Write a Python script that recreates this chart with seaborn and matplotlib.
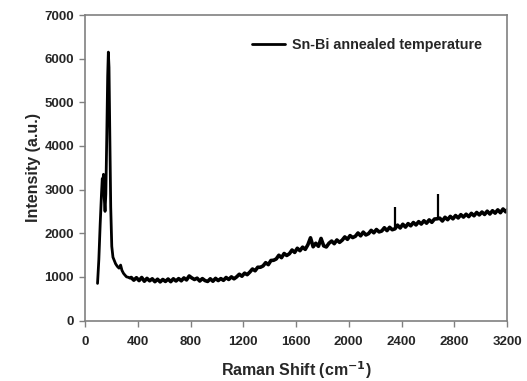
import matplotlib
matplotlib.use("Agg")
import matplotlib.pyplot as plt
import numpy as np
import pandas as pd
import seaborn as sns

#%% Data
# peak region (Sn-Bi bands near 130-180 cm-1)
shift_peak = [95, 105, 115, 125, 131, 135, 140, 146, 152, 158, 165, 172, 177, 182, 188,
              195, 203, 212, 220, 232, 245, 258, 270, 280, 292, 303, 315, 328, 341, 350]
intensity_peak = [850, 1400, 2200, 2900, 3250, 3150, 3350, 2800, 2500, 2900, 4200, 5600, 6150, 5800, 4300,
                  2600, 1700, 1450, 1390, 1300, 1240, 1200, 1270, 1150, 1080, 1040, 1000, 990, 970, 985]

# noisy background, 350 - 3200 cm-1
shift_bg = [350, 370, 390, 410, 430, 450, 470, 490, 510, 530,
            550, 570, 590, 610, 630, 650, 670, 690, 710, 730,
            750, 770, 790, 810, 830, 850, 870, 890, 910, 930,
            950, 970, 990, 1010, 1030, 1050, 1070, 1090, 1110, 1130,
            1150, 1170, 1190, 1210, 1230, 1250, 1270, 1290, 1310, 1330,
            1350, 1370, 1390, 1410, 1430, 1450, 1470, 1490, 1510, 1530,
            1550, 1570, 1590, 1610, 1630, 1650, 1670, 1690, 1710, 1730,
            1750, 1770, 1790, 1810, 1830, 1850, 1870, 1890, 1910, 1930,
            1950, 1970, 1990, 2010, 2030, 2050, 2070, 2090, 2110, 2130,
            2150, 2170, 2190, 2210, 2230, 2250, 2270, 2290, 2310, 2330,
            2350, 2370, 2390, 2410, 2430, 2450,
            2470, 2490, 2510, 2530, 2550, 2570, 2590, 2610, 2630, 2650,
            2670, 2690, 2710, 2730, 2750, 2770,
            2790, 2810, 2830, 2850, 2870, 2890, 2910, 2930, 2950, 2970,
            2990, 3010, 3030, 3050, 3070, 3090, 3110, 3130, 3150, 3170, 3190, 3200]
intensity_bg = [985, 925, 980, 915, 985, 900, 965, 910, 955, 890,
                945, 885, 940, 895, 950, 890, 955, 905, 960, 910,
                975, 930, 1020, 975, 940, 970, 905, 960, 915, 895,
                955, 900, 965, 915, 960, 920, 985, 940, 1000, 955,
                1000, 1060, 1015, 1085, 1050, 1110, 1180, 1140, 1220, 1220,
                1250, 1325, 1280, 1375, 1380, 1410, 1495, 1440, 1535, 1490,
                1530, 1615, 1560, 1655, 1600, 1680, 1630, 1735, 1895, 1690,
                1770, 1700, 1880, 1710, 1685, 1770, 1820, 1760, 1845, 1790,
                1840, 1915, 1860, 1945, 1900, 1930, 2005, 1940, 2025, 1960,
                1990, 2065, 2010, 2085, 2030, 2050, 2125, 2060, 2135, 2080,
                2100, 2185, 2120, 2205, 2140, 2220,
                2170, 2245, 2190, 2265, 2210, 2285, 2230, 2305, 2250, 2325,
                2330, 2345, 2280, 2365, 2310, 2385,
                2330, 2405, 2350, 2425, 2370, 2435, 2380, 2455, 2400, 2475,
                2420, 2485, 2430, 2505, 2440, 2515, 2460, 2535, 2470, 2555, 2490, 2530]

# two narrow spikes on the background
spike_shift = [2354, 2674]
spike_base = [2110, 2320]
spike_top = [2600, 2890]

x_ticks = [0, 400, 800, 1200, 1600, 2000, 2400, 2800, 3200]
y_ticks = [0, 1000, 2000, 3000, 4000, 5000, 6000, 7000]

peak = pd.DataFrame({'shift': shift_peak, 'intensity': intensity_peak})
background = pd.DataFrame({'shift': shift_bg, 'intensity': intensity_bg})

#%% Figure
sns.set_style("white")
plt.rcParams['font.family'] = ['Liberation Sans', 'DejaVu Sans']
plt.rcParams['font.weight'] = 'bold'

fig = plt.figure(figsize=(5.27, 3.81), dpi=100)
ax = fig.add_axes([85/527, 1 - 320.5/381, 422/527, 305.5/381])

sns.lineplot(data=peak, x='shift', y='intensity', estimator=None, sort=False,
             color='black', linewidth=2.0, label='Sn-Bi annealed temperature', ax=ax)
sns.lineplot(data=background, x='shift', y='intensity', estimator=None, sort=False,
             color='black', linewidth=2.6, label='_nolegend_', ax=ax)
ax.vlines(spike_shift, spike_base, spike_top, color='black', linewidth=1.6)

ax.set_xlim(0, 3200)
ax.set_ylim(0, 7000)
ax.set_xticks(x_ticks)
ax.set_yticks(y_ticks)
ax.tick_params(axis='both', direction='out', length=4, width=1, color='#808080',
               labelsize=9.5, bottom=True, left=True)
ax.tick_params(axis='x', pad=7)
ax.tick_params(axis='y', pad=4)
for label in ax.get_xticklabels() + ax.get_yticklabels():
    label.set_fontweight('bold')

for spine in ax.spines.values():
    spine.set_color('#808080')
    spine.set_linewidth(1.2)

ax.set_xlabel(r'Raman Shift (cm$^{\mathbf{-1}}$)', fontsize=11.5, fontweight='bold', labelpad=8)
ax.set_ylabel('Intensity (a.u.)', fontsize=11.5, fontweight='bold', labelpad=2)

leg = ax.legend(loc='center right', bbox_to_anchor=(0.972, 0.902), frameon=False,
                fontsize=10.3, handlelength=2.3, handletextpad=0.5)
for t in leg.get_texts():
    t.set_fontweight('bold')

fig.savefig('out.png', dpi=100)
